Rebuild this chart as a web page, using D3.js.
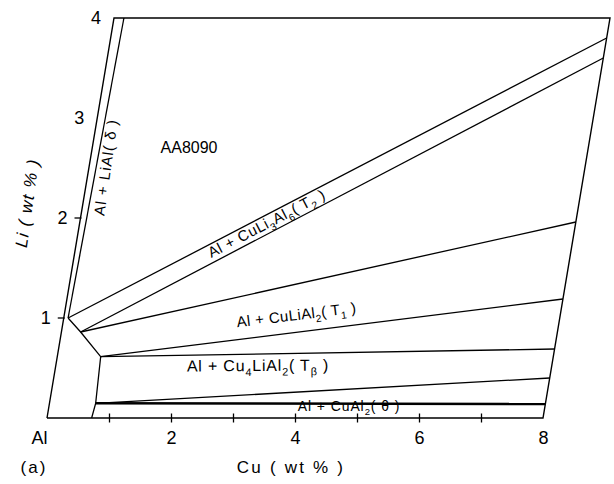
<!DOCTYPE html>
<html>
<head>
<meta charset="utf-8">
<script src="https://cdn.jsdelivr.net/npm/d3@7"></script>
<style>
  html, body { margin: 0; padding: 0; background: #fff; }
  svg { display: block; font-family: "Liberation Sans", Arial, sans-serif; }
  .edge { fill: none; stroke: #000; stroke-width: 1.4; }
  .phase { fill: none; stroke: #000; stroke-width: 1.3; }
  .thick { stroke-width: 2.6; }
  .tick line { stroke: #000; stroke-width: 1.3; }
</style>
</head>
<body>
<svg id="chart" width="614" height="484"></svg>
<script>
(() => {
  // ─── Data (Cu wt%, Li wt%) ───────────────────────────────────
  const cuTicks = [1, 2, 3, 4, 5, 6, 7];
  const cuLabels = [0, 2, 4, 6, 8];
  const liLabels = [1, 2, 3, 4];
  const liTicks = [1, 2];

  const frame = [[0, 0], [8, 0], [8, 4], [0, 4], [0, 0]];
  const alphaBoundary = [[0.07, 1.0], [0.31, 0.86], [0.70, 0.613], [0.745, 0.147], [0.72, 0]];
  const deltaLine = [[0.07, 1.0], [0.16, 4.0]];
  const t2Upper = [[0.07, 1.0], [8, 3.8]];
  const t2Lower = [[0.31, 0.86], [8, 3.6]];
  const t1Upper = [[0.31, 0.86], [8, 1.96]];
  const t1Lower = [[0.70, 0.613], [8, 1.19]];
  const tbUpper = [[0.70, 0.613], [8, 0.69]];
  const tbLower = [[0.745, 0.147], [8, 0.40]];
  const thetaLine = [[0.745, 0.147], [8, 0.14]];

  // label text pieces: [text, "sub"?]
  const deltaText = [["Al + LiAl( δ )"]];
  const t2Text = [["Al + CuLi"], ["3", "sub"], ["Al"], ["6", "sub"], ["( T"], ["2", "sub"], [" )"]];
  const t1Text = [["Al + CuLiAl"], ["2", "sub"], ["( T"], ["1", "sub"], [" )"]];
  const tbText = [["Al + Cu"], ["4", "sub"], ["LiAl"], ["2", "sub"], ["( T"], ["β", "sub"], [" )"]];
  const thetaText = [["Al + CuAl"], ["2", "sub"], ["( θ )"]];

  // ─── Skewed scales ───────────────────────────────────────────
  const x = d3.scaleLinear().domain([0, 8]).range([47, 543]);
  const y = d3.scaleLinear().domain([0, 4]).range([418, 18]);
  const skew = 16.75; // px shift to the right per wt% Li
  const P = ([cu, li]) => [x(cu) + skew * li, y(li)];
  const line = d3.line().x((d) => P(d)[0]).y((d) => P(d)[1]);

  const svg = d3.select("#chart");

  // ─── Frame and phase boundaries ──────────────────────────────
  svg.append("path").attr("class", "edge").attr("d", line(frame));
  [alphaBoundary, deltaLine, t2Upper, t2Lower, t1Upper, t1Lower, tbUpper, tbLower]
    .forEach((pts) => svg.append("path").attr("class", "phase").attr("d", line(pts)));
  svg.append("path").attr("class", "phase thick").attr("d", line(thetaLine));

  // ─── Cu axis ─────────────────────────────────────────────────
  svg.append("g")
    .attr("transform", `translate(0,${y(0) - 4.5})`)
    .call(d3.axisBottom(x).tickValues(cuTicks).tickSize(9).tickFormat(""))
    .call((g) => g.select(".domain").remove());

  svg.append("g")
    .attr("transform", `translate(0,${y(0)})`)
    .call(d3.axisBottom(x).tickValues(cuLabels).tickSize(0).tickPadding(13)
      .tickFormat((d) => (d === 0 ? "Al" : d)))
    .call((g) => g.select(".domain").remove())
    .call((g) => g.selectAll("text")
      .attr("font-size", 18).attr("font-family", "Liberation Sans, Arial, sans-serif")
      .attr("fill", "#000")
      .attr("dx", (d) => (d === 0 ? -8 : 0)));

  // ─── Li axis (skewed, drawn by hand from the scales) ─────────
  svg.append("g").selectAll("line")
    .data(liTicks)
    .join("line")
    .attr("x1", (d) => P([0, d])[0] - 6).attr("x2", (d) => P([0, d])[0] + 1)
    .attr("y1", (d) => y(d)).attr("y2", (d) => y(d))
    .attr("stroke", "#000").attr("stroke-width", 1.3);

  svg.append("g").selectAll("text")
    .data(liLabels)
    .join("text")
    .attr("x", (d) => P([0, d])[0] - 18)
    .attr("y", (d) => y(d) + 6)
    .attr("text-anchor", "middle")
    .attr("font-size", 18)
    .text((d) => d);

  // ─── Axis titles ─────────────────────────────────────────────
  svg.append("text")
    .attr("transform", "translate(27,203) rotate(-82)")
    .attr("text-anchor", "middle").attr("dy", "0.35em")
    .attr("font-size", 17).attr("font-style", "italic")
    .attr("letter-spacing", 1.3)
    .text("Li ( wt % )");

  svg.append("text")
    .attr("x", 291).attr("y", 473)
    .attr("text-anchor", "middle").attr("font-size", 17)
    .attr("letter-spacing", 2.2)
    .text("Cu ( wt % )");

  svg.append("text")
    .attr("x", 34).attr("y", 473)
    .attr("text-anchor", "middle").attr("font-size", 17)
    .attr("letter-spacing", 2)
    .text("(a)");

  // ─── Region labels ───────────────────────────────────────────
  function label(parts, cx, cy, angle, size, spacing) {
    const t = svg.append("text")
      .attr("transform", `translate(${cx},${cy}) rotate(${angle})`)
      .attr("text-anchor", "middle").attr("dy", "0.35em")
      .attr("font-size", size)
      .attr("letter-spacing", spacing);
    let shift = 0;
    parts.forEach(([s, kind]) => {
      const sp = t.append("tspan").text(s);
      const target = kind === "sub" ? size * 0.3 : 0;
      sp.attr("dy", target - shift);
      if (kind === "sub") sp.attr("font-size", size * 0.68);
      shift = target;
    });
    return t;
  }

  svg.append("text")
    .attr("x", 189).attr("y", 153)
    .attr("text-anchor", "middle").attr("font-size", 16)
    .text("AA8090");

  label(deltaText, 111, 168, -82, 15, 1.1);
  label(t2Text, 269, 228, -27.5, 15, 0.6);
  label(t1Text, 297, 320, -7, 15, 0.4);
  label(tbText, 258, 371, -0.5, 16, 0.8);
  label(thetaText, 349, 411, 0, 14, 0.9);
})();
</script>
</body>
</html>
